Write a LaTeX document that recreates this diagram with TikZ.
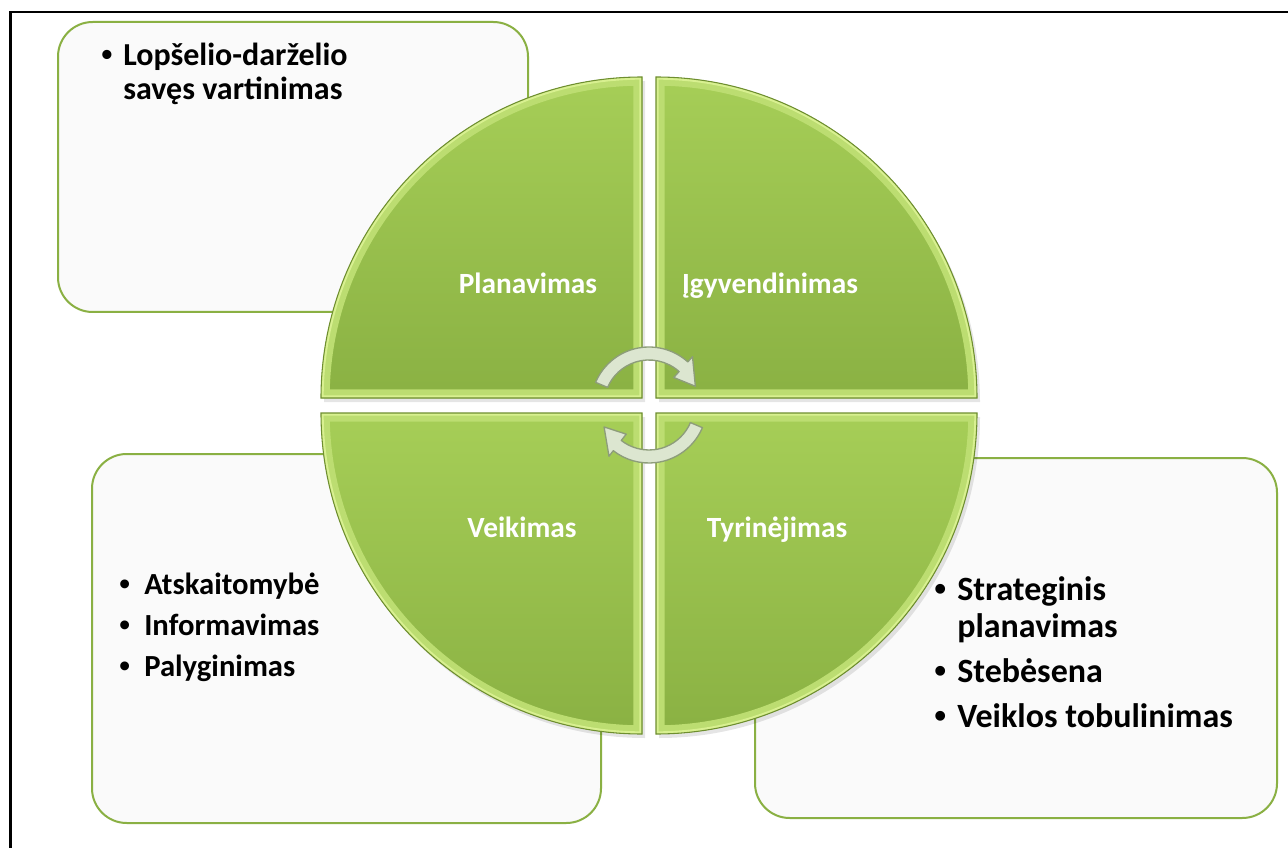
\documentclass[tikz,border=0pt]{standalone}
\usepackage{fontspec}
\setmainfont{Carlito}
\newfontfamily\bulfont{Liberation Sans}
\usetikzlibrary{calc}
\definecolor{segtop}{HTML}{A6CE57}
\definecolor{segbot}{HTML}{8AB143}
\definecolor{seglight}{HTML}{D8F090}
\definecolor{segline}{HTML}{6E8E30}
\definecolor{boxline}{HTML}{8AB043}
\definecolor{arrfill}{HTML}{DCE6D0}
\definecolor{arrline}{HTML}{8D9D7A}
\tikzset{
  boxtxt/.style={font=\fontsize{23}{27}\selectfont\bfseries, anchor=base west, inner sep=0pt},
  toptxt/.style={font=\fontsize{24}{28}\selectfont\bfseries, anchor=base west, inner sep=0pt},
  bigtxt/.style={font=\fontsize{25.5}{30}\selectfont\bfseries, anchor=base west, inner sep=0pt},
  segtxt/.style={font=\fontsize{22}{26}\selectfont\bfseries, text=white, anchor=base, inner sep=0pt},
  infobox/.style={fill=white!98!black, draw=boxline, line width=1.5pt, rounded corners=26pt},
}
% quarter of the wheel: corner, start angle
\def\quarter(#1)(#2){(#1) -- ++(#2:321) arc[start angle=#2, end angle=#2+90, radius=321] -- cycle}
\def\bul{{\bulfont\bfseries •}}

\begin{document}
\begin{tikzpicture}[x=0.75pt, y=-0.75pt]
  \useasboundingbox (0,0) rectangle (1288,848);

  %%%%% frame %%%%%
  \draw[line width=2.2pt] (10.5,12) rectangle (1320,880);

  %%%%% side boxes %%%%%
  \draw[infobox] (58,22) rectangle (528,312);
  \draw[infobox] (92,454) rectangle (601,823);
  \draw[infobox] (755,458) rectangle (1277,818);

  %%%%% wheel %%%%%
  \fill[black, opacity=.1] \quarter(645,402)(180);
  \fill[black, opacity=.1] \quarter(659,402)(270);
  \fill[black, opacity=.1] \quarter(659,417)(0);
  \fill[black, opacity=.1] \quarter(645,417)(90);

  \foreach \c/\a in {{642,398}/180, {656,398}/270, {656,413}/0, {642,413}/90}{
    \shade[top color=segtop, bottom color=segbot] \quarter(\c)(\a);
    \begin{scope}
      \clip \quarter(\c)(\a);
      \draw[seglight!45!segtop, line width=13pt] \quarter(\c)(\a);
      \draw[seglight, line width=4pt] \quarter(\c)(\a);
    \end{scope}
    \draw[segline, line width=0.8pt] \quarter(\c)(\a);
  }

  \node[segtxt] (plan) at (528,294) {Planavimas};
  \node[segtxt] (igyv) at (770,294) {Įgyvendinimas};
  \node[segtxt] (veik) at (522,537) {Veikimas};
  \node[segtxt] (tyr) at (777,537) {Tyrinėjimas};

  %%%%% cycle arrows %%%%%
  \begin{scope}[shift={(649,405)}]
    \filldraw[fill=arrfill, draw=arrline, line width=1pt, line join=round]
      (203:58) arc[start angle=203, end angle=312, radius=58] -- (312:65)
      -- (338:50) -- (312:37) -- (312:45) arc[start angle=312, end angle=203, radius=45] -- cycle;
    \filldraw[fill=arrfill, draw=arrline, line width=1pt, line join=round]
      (23:58) arc[start angle=23, end angle=128, radius=58] -- (128:65)
      -- (154:50) -- (128:37) -- (128:45) arc[start angle=128, end angle=23, radius=45] -- cycle;
  \end{scope}

  %%%%% box texts %%%%%
  \node[toptxt] (tlb) at (101,66) {\bul};
  \node[toptxt] (tl1) at (123,66) {Lopšelio-darželio};
  \node[toptxt] (tl2) at (123,100) {savęs vartinimas};

  \node[boxtxt] (blb1) at (119,594) {\bul};
  \node[boxtxt] (bl1) at (144,594) {Atskaitomybė};
  \node[boxtxt] (blb2) at (119,635) {\bul};
  \node[boxtxt] (bl2) at (144,635) {Informavimas};
  \node[boxtxt] (blb3) at (119,676) {\bul};
  \node[boxtxt] (bl3) at (144,676) {Palyginimas};

  \node[bigtxt] (brb1) at (934,600) {\bul};
  \node[bigtxt] (br1) at (957,600) {Strateginis};
  \node[bigtxt] (br2) at (957,637) {planavimas};
  \node[bigtxt] (brb2) at (934,682) {\bul};
  \node[bigtxt] (br3) at (957,682) {Stebėsena};
  \node[bigtxt] (brb3) at (934,727) {\bul};
  \node[bigtxt] (br4) at (957,727) {Veiklos tobulinimas};
\end{tikzpicture}
\end{document}
